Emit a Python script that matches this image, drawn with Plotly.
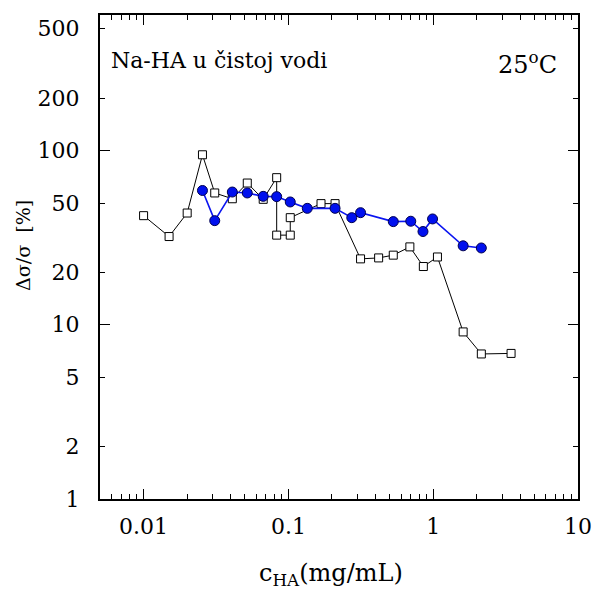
import plotly.graph_objects as go

# Relative conductivity change vs. hyaluronan concentration (Na-HA in pure water, 25 °C)
conc_open = [0.01, 0.015, 0.02, 0.0255, 0.031, 0.041, 0.052, 0.067, 0.083, 0.083,
             0.103, 0.103, 0.168, 0.21, 0.315, 0.42, 0.53, 0.69, 0.855, 1.07,
             1.61, 2.15, 3.45]
delta_open = [42.3, 32.1, 43.8, 94.6, 57.1, 52.9, 65.1, 52.5, 69.9, 32.7,
              32.7, 41.2, 49.6, 49.6, 23.9, 24.2, 25.1, 28.0, 21.6, 24.5,
              9.1, 6.8, 6.85]

conc_filled = [0.0255, 0.031, 0.041, 0.052, 0.067, 0.083, 0.103, 0.135, 0.21,
               0.274, 0.315, 0.53, 0.70, 0.85, 0.99, 1.61, 2.15]
delta_filled = [59.0, 39.6, 57.8, 57.1, 54.6, 54.4, 50.7, 46.6, 46.6,
                41.2, 44.0, 39.1, 39.3, 34.3, 40.5, 28.4, 27.6]

x_major = [0.01, 0.1, 1, 10]
x_labels = ["0.01", "0.1", "1", "10"]
x_minor = [m * 10.0 ** e for e in (-3, -2, -1, 0) for m in range(2, 10)
           if 0.005 <= m * 10.0 ** e <= 10]
y_ticks = [1, 2, 5, 10, 20, 50, 100, 200, 500]
y_decades = [1, 10, 100]

FONT = "DejaVu Serif"
XR = [-2.30103, 1.0]
YR = [0.0, 2.77815]

fig = go.Figure()
fig.add_trace(go.Scatter(
    x=conc_open, y=delta_open, mode="lines+markers",
    line=dict(color="black", width=1),
    marker=dict(symbol="square", size=8, color="white",
                line=dict(color="black", width=1)),
    showlegend=False))
fig.add_trace(go.Scatter(
    x=conc_filled, y=delta_filled, mode="lines+markers",
    line=dict(color="#0a14f0", width=1.6),
    marker=dict(symbol="circle", size=10, color="#0010ee",
                line=dict(color="#000050", width=1)),
    showlegend=False))
# carrier trace for the decade-tick overlay axis
fig.add_trace(go.Scatter(x=[0.02], y=[1e-3], yaxis="y2", mode="markers",
                         marker=dict(opacity=0), showlegend=False,
                         hoverinfo="skip"))

fig.update_layout(
    width=600, height=590,
    margin=dict(l=100, r=22, t=15, b=91, autoexpand=False),
    paper_bgcolor="white", plot_bgcolor="white",
    font=dict(family=FONT, color="black", size=22),
    xaxis=dict(
        type="log", range=XR, showgrid=False, zeroline=False,
        automargin=False,
        showline=True, linecolor="black", linewidth=2, mirror="ticks",
        tickmode="array", tickvals=x_major, ticktext=x_labels,
        ticks="inside", ticklen=10, tickwidth=1.3, tickcolor="black",
        tickfont=dict(family=FONT, size=22), ticklabelstandoff=7,
        minor=dict(tickmode="array", tickvals=x_minor, ticks="inside",
                   ticklen=5, tickwidth=1.3, tickcolor="black",
                   showgrid=False),
    ),
    yaxis=dict(
        type="log", range=YR, showgrid=False, zeroline=False,
        automargin=False,
        showline=True, linecolor="black", linewidth=2, mirror="ticks",
        tickmode="array", tickvals=y_ticks,
        ticktext=[str(v) for v in y_ticks],
        ticks="inside", ticklen=5, tickwidth=1.3, tickcolor="black",
        tickfont=dict(family=FONT, size=22), ticklabelstandoff=14,
    ),
    yaxis2=dict(
        type="log", range=YR, overlaying="y", side="left",
        automargin=False,
        showgrid=False, zeroline=False, showline=False, mirror="ticks",
        tickmode="array", tickvals=y_decades, showticklabels=False,
        ticks="inside", ticklen=10, tickwidth=1.3, tickcolor="black",
    ),
    annotations=[
        dict(text="Na-HA u čistoj vodi", xref="paper", yref="paper",
             x=0.018, y=0.905, xanchor="left", yanchor="middle",
             showarrow=False, font=dict(family=FONT, size=22)),
        dict(text="25<sup>o</sup>C", xref="paper", yref="paper",
             x=0.96, y=0.9, xanchor="right", yanchor="middle",
             showarrow=False, font=dict(family=FONT, size=24)),
        dict(text="c<sub>HA</sub>(mg/mL)", xref="paper", yref="paper",
             x=0.483, y=-0.157, xanchor="center", yanchor="middle",
             showarrow=False, font=dict(family=FONT, size=24)),
        dict(text="Δσ/σ  [%]", xref="paper", yref="paper",
             x=-0.161, y=0.523, xanchor="center", yanchor="middle",
             textangle=-90, showarrow=False,
             font=dict(family=FONT, size=19)),
    ],
)

fig.write_html("out.html")
